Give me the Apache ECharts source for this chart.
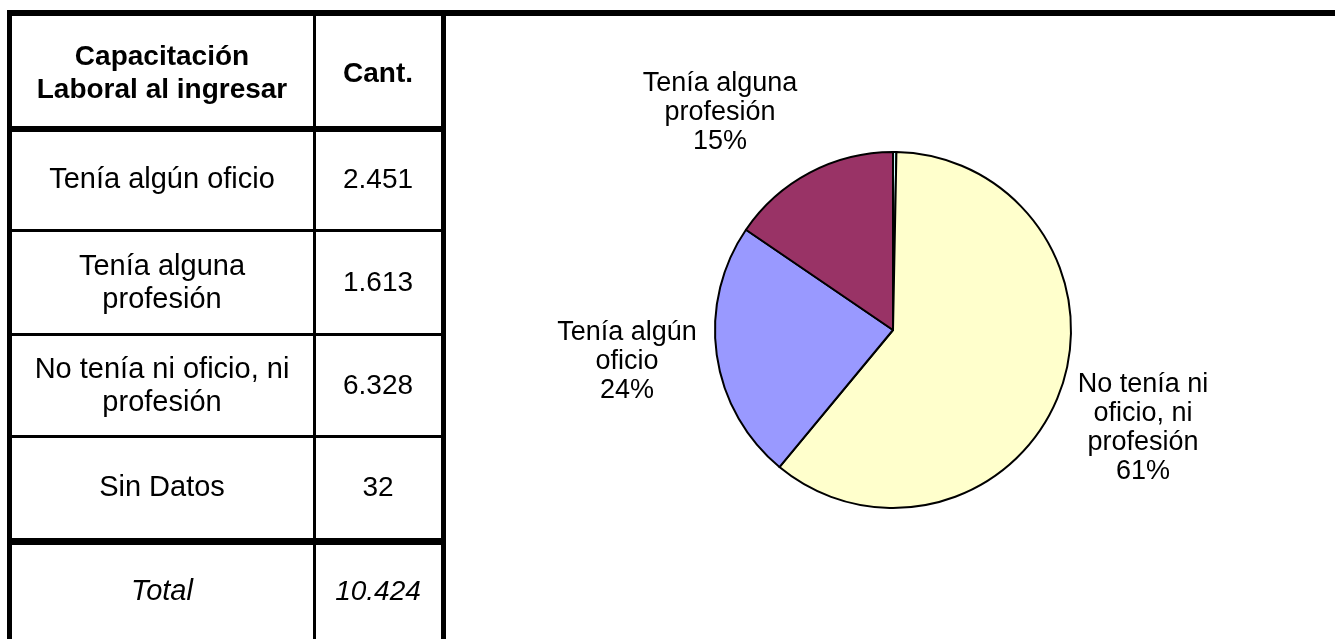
<!DOCTYPE html>
<html>
<head>
<meta charset="utf-8">
<script src="https://cdn.jsdelivr.net/npm/echarts@6/dist/echarts.min.js"></script>
<style>
  html, body { margin: 0; padding: 0; background: #fff; }
  #chart { width: 1335px; height: 639px; }
</style>
</head>
<body>
<div id="chart"></div>
<script>
// datos de la tabla
const categories = ['Tenía algún oficio', 'Tenía alguna profesión', 'No tenía ni oficio, ni profesión', 'Sin Datos']
const tableLabels = ['Tenía algún oficio', 'Tenía alguna\nprofesión', 'No tenía ni oficio, ni\nprofesión', 'Sin Datos']
const pieLabels = ['Tenía algún\noficio', 'Tenía alguna\nprofesión', 'No tenía ni\noficio, ni\nprofesión', 'Sin Datos']
const counts = [2451, 1613, 6328, 32]
const colors = ['#9999FF', '#993366', '#FFFFCC', '#CCFFFF']
// orden de las porciones en el gráfico (desde las 12, sentido horario)
const pieOrder = [3, 2, 0, 1]

const total = counts.reduce((a, b) => a + b, 0)

function fmt(n) {
    return String(n).replace(/\B(?=(\d{3})+(?!\d))/g, '.')
}

const chart = echarts.init(document.getElementById('chart'))

// tabla dibujada con graphic
const font = '"Liberation Sans", Arial, sans-serif'
const col1 = 162, col2 = 378
const rowCenters = [180, 283, 386, 488]
let graphics = []

function hline(y, h, x1, x2) {
    graphics.push({ type: 'rect', shape: { x: x1, y: y, width: x2 - x1, height: h }, style: { fill: '#000' }, z: 10 })
}
function vline(x, w, y1, y2) {
    graphics.push({ type: 'rect', shape: { x: x, y: y1, width: w, height: y2 - y1 }, style: { fill: '#000' }, z: 10 })
}
function cellText(txt, x, y, opts) {
    graphics.push({
        type: 'text', x: x, y: y, z: 11,
        style: Object.assign({
            text: txt, fill: '#000', align: 'center', verticalAlign: 'middle',
            fontFamily: font, fontSize: 29, lineHeight: 33
        }, opts || {})
    })
}

hline(10, 6, 7, 1335)
hline(126, 6, 7, 446)
hline(229, 3, 7, 446)
hline(333, 3, 7, 446)
hline(435, 3, 7, 446)
hline(538, 7, 7, 446)
vline(7, 5, 10, 639)
vline(313, 3, 10, 639)
vline(441, 5, 10, 639)

cellText('Capacitación\nLaboral al ingresar', col1, 74, { fontWeight: 'bold', fontSize: 28 })
cellText('Cant.', col2, 74, { fontWeight: 'bold', fontSize: 28 })
for (let i = 0; i < categories.length; i++) {
    cellText(tableLabels[i], col1, rowCenters[i])
    cellText(fmt(counts[i]), col2, rowCenters[i], { fontSize: 28 })
}
cellText('Total', col1, 592, { fontStyle: 'italic' })
cellText(fmt(total), col2, 592, { fontStyle: 'italic', fontSize: 28 })

// posiciones de las etiquetas (como en el original)
const labelPos = { 0: [627, 362], 1: [720, 113], 2: [1143, 428] }

let pieData = pieOrder.map((i) => ({
    name: categories[i],
    value: counts[i],
    catIndex: i,
    itemStyle: { color: colors[i] },
    label: { show: i !== 3 }
}))

const option = {
    animation: false,
    graphic: graphics,
    series: [
        {
            type: 'pie',
            center: [893, 330],
            radius: 178,
            startAngle: 90,
            clockwise: true,
            percentPrecision: 0,
            itemStyle: { borderColor: '#000', borderWidth: 2 },
            label: {
                position: 'outside',
                formatter: (p) => pieLabels[p.data.catIndex] + '\n' + p.percent + '%',
                fontFamily: font,
                fontSize: 27,
                lineHeight: 29,
                color: '#000',
                align: 'center'
            },
            labelLine: { show: false },
            labelLayout: (params) => {
                const cat = pieOrder[params.dataIndex]
                const pos = labelPos[cat]
                if (!pos) return {}
                return { x: pos[0], y: pos[1], align: 'center', verticalAlign: 'middle' }
            },
            emphasis: { disabled: true },
            data: pieData
        }
    ]
}
chart.setOption(option)
</script>
</body>
</html>
